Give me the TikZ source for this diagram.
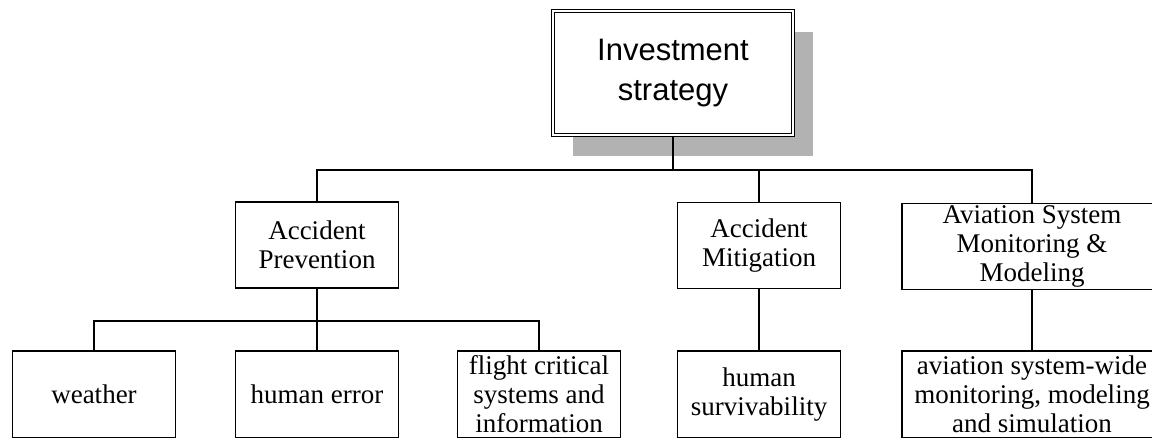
\documentclass[tikz,border=0pt]{standalone}
\usepackage{fontspec}
\setmainfont{Liberation Serif}
\newfontfamily\headfont{Liberation Sans}
\usetikzlibrary{shadows}
\begin{document}
\begin{tikzpicture}[x=1pt,y=-1pt,
  box/.style={draw, line width=1.4pt, fill=white, align=center, inner sep=0pt,
              font=\fontsize{27}{29}\selectfont},
  midbox/.style={box, minimum width=163pt, minimum height=86pt},
  leafbox/.style={box, minimum width=163pt, minimum height=87pt},
  widebox/.style={minimum width=260pt},
  headbox/.style={draw, double, double distance=2pt, line width=1.2pt, fill=white,
              minimum width=240pt, minimum height=124pt, align=center,
              font=\headfont\fontsize{31}{40}\selectfont,
              drop shadow={shadow xshift=20pt, shadow yshift=-21pt,
                           fill=black!30, opacity=1, draw=none}},
  link/.style={line width=1.4pt}]
\useasboundingbox (0,0) rectangle (1152,437);
\clip (0,0) rectangle (1152,437);

% root
\node[headbox] (inv) at (673,73) {Investment\\strategy};

% second level
\node[midbox] (ap) at (317,245) {Accident\\Prevention};
\node[midbox] (am) at (759,245.5) {Accident\\Mitigation};
\node[midbox, widebox] (as) at (1032,246.5) {Aviation System\\Monitoring \&\\Modeling};

% third level
\node[leafbox] (wea)  at (94,394.5)  {weather};
\node[leafbox] (herr) at (317,394.5) {human error};
\node[leafbox] (flt)  at (539,394.5) {flight critical\\systems and\\information};
\node[leafbox] (surv) at (759,394.5) {human\\survivability};
\node[leafbox, widebox] (avw) at (1032,394.5) {aviation system-wide\\monitoring, modeling\\and simulation};

% connectors
\coordinate (bus1) at (673,170);
\coordinate (bus2) at (317,321);
\draw[link] (inv.south) -- (bus1);
\draw[link] (ap.north) |- (bus1);
\draw[link] (am.north) |- (bus1);
\draw[link] (as.north) |- (bus1);
\draw[link] (ap.south) -- (bus2);
\draw[link] (wea.north) |- (bus2) -| (flt.north);
\draw[link] (bus2) -- (herr.north);
\draw[link] (am.south) -- (surv.north);
\draw[link] (as.south) -- (avw.north);
\end{tikzpicture}
\end{document}
